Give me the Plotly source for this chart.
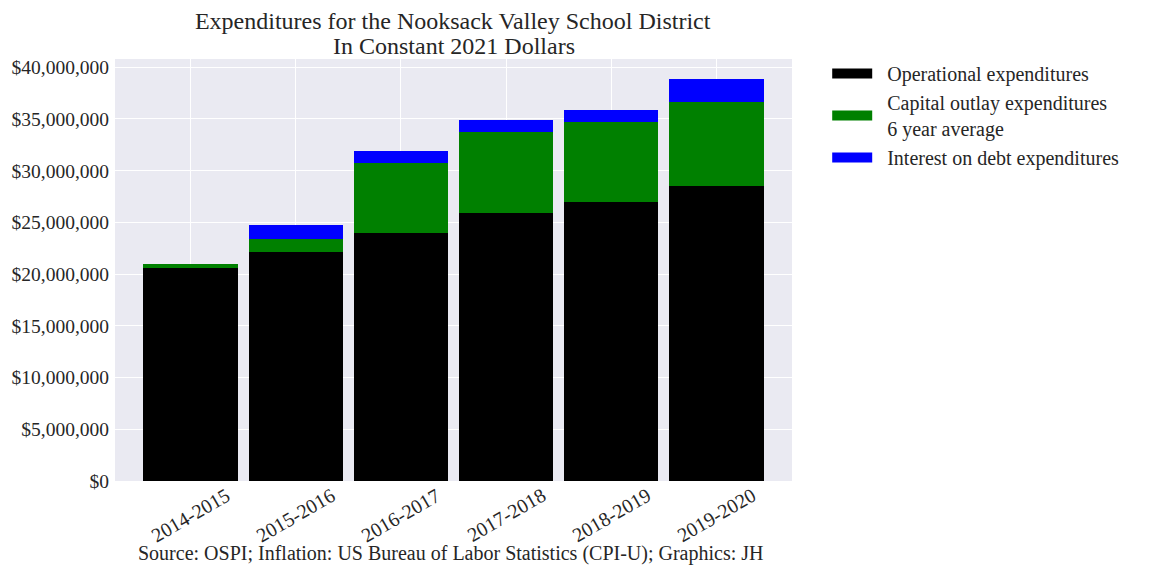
import plotly.graph_objects as go

years = ["2014-2015", "2015-2016", "2016-2017", "2017-2018", "2018-2019", "2019-2020"]
operational = [20600000, 22150000, 24000000, 25920000, 26980000, 28550000]
capital_avg = [400000, 1250000, 6750000, 7860000, 7720000, 8100000]
interest = [0, 1370000, 1150000, 1130000, 1200000, 2220000]

series_names = ["Operational expenditures",
                "Capital outlay expenditures<br>6 year average",
                "Interest on debt expenditures"]
series_colors = ["black", "green", "blue"]

tick_vals = [0, 5e6, 10e6, 15e6, 20e6, 25e6, 30e6, 35e6, 40e6]
tick_text = ["${:,.0f}".format(v) for v in tick_vals]

font = "Liberation Serif, Times New Roman, serif"
ink = "#262626"
pad = "&nbsp;&nbsp;"

fig = go.Figure()
for vals, name, col in zip([operational, capital_avg, interest], series_names, series_colors):
    fig.add_trace(go.Bar(x=years, y=vals, name=name, showlegend=False,
                         marker=dict(color=col, line=dict(width=0))))

# legend-only entries so the swatches come out as wide patches
for name, col in zip(series_names, series_colors):
    label = pad + name.replace("<br>", "<br>" + pad)
    fig.add_trace(go.Scatter(x=[None], y=[None], mode="lines", name=label,
                             line=dict(color=col, width=13)))

# x labels centred under the bars, matplotlib style
year_labels = [dict(text=yr, x=yr, xref="x", yref="paper", y=-0.08, xanchor="center",
                    yanchor="middle", textangle=-30, showarrow=False,
                    font=dict(size=20, color=ink)) for yr in years]

fig.update_layout(
    barmode="stack",
    bargap=0.1,
    width=1152, height=576,
    margin=dict(l=107, r=368, t=51, b=103, autoexpand=False),
    paper_bgcolor="white",
    plot_bgcolor="#eaeaf2",
    font=dict(family=font, size=19.5, color=ink),
    title=dict(text="Expenditures for the Nooksack Valley School District",
               x=0.386, xanchor="center", yref="container", y=0.979, yanchor="middle",
               font=dict(size=24, color=ink)),
    legend=dict(x=1.052, y=1.012, xanchor="left", yanchor="top",
                font=dict(size=20, color=ink), bgcolor="rgba(0,0,0,0)",
                traceorder="normal", itemwidth=40),
    xaxis=dict(range=[-0.72, 5.72], showgrid=True, gridcolor="white",
               gridwidth=1, showticklabels=False, ticks="", zeroline=False),
    yaxis=dict(range=[0, 40.8e6], tickvals=tick_vals, ticktext=tick_text, showgrid=True,
               gridcolor="white", gridwidth=1, tickfont=dict(size=19.5), ticks="",
               zeroline=False, ticklabelstandoff=5),
    annotations=year_labels + [
        dict(text="In Constant 2021 Dollars", xref="paper", yref="paper", x=0.5, y=1.031,
             xanchor="center", yanchor="middle", showarrow=False,
             font=dict(size=24, color=ink)),
        dict(text="Source: OSPI; Inflation: US Bureau of Labor Statistics (CPI-U); Graphics: JH",
             xref="paper", yref="paper", x=0.495, y=-0.171, xanchor="center",
             yanchor="middle", showarrow=False, font=dict(size=20, color=ink))],
)

fig.write_html("out.html")
